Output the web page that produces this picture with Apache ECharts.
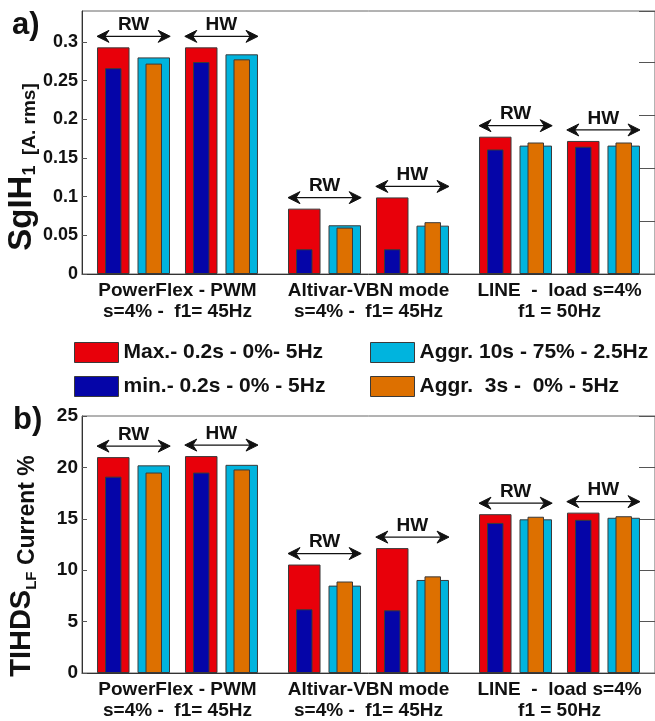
<!DOCTYPE html>
<html>
<head>
<meta charset="utf-8">
<script src="https://cdn.jsdelivr.net/npm/echarts@6/dist/echarts.min.js"></script>
<style>html,body{margin:0;padding:0;background:#fff;}#c{width:655px;height:721px;}</style>
</head>
<body>
<div id="c"></div>
<script>
// ---- data ----
const groups = ['PowerFlex - PWM\ns=4% -  f1= 45Hz', 'Altivar-VBN mode\ns=4% -  f1= 45Hz', 'LINE  -  load s=4%\nf1 = 50Hz'];
const legendNames = ['Max.- 0.2s - 0%- 5Hz', 'min.- 0.2s - 0% - 5Hz', 'Aggr. 10s - 75% - 2.5Hz', 'Aggr.  3s -  0% - 5Hz'];
const subLabels = ['RW', 'HW'];

// panel a) SgIH1 [A. rms]
const aMaxRW   = [0.293, 0.0845, 0.1775];
const aMaxHW   = [0.293, 0.099, 0.172];
const aMinRW   = [0.266, 0.032, 0.161];
const aMinHW   = [0.274, 0.032, 0.1645];
const aAgg10RW = [0.280, 0.063, 0.166];
const aAgg10HW = [0.284, 0.0625, 0.166];
const aAgg3RW  = [0.272, 0.060, 0.170];
const aAgg3HW  = [0.2775, 0.067, 0.170];
const aTicks = { min: 0, max: 0.34, interval: 0.05 };

// panel b) TIHDS_LF Current %
const bMaxRW   = [21.0, 10.55, 15.45];
const bMaxHW   = [21.1, 12.15, 15.6];
const bMinRW   = [19.1, 6.2, 14.6];
const bMinHW   = [19.5, 6.1, 14.9];
const bAgg10RW = [20.2, 8.5, 14.95];
const bAgg10HW = [20.25, 9.05, 15.1];
const bAgg3RW  = [19.5, 8.9, 15.2];
const bAgg3HW  = [19.8, 9.4, 15.25];
const bTicks = { min: 0, max: 25, interval: 5 };

// ---- style ----
const FONT = '"Liberation Sans", Arial, sans-serif';
const C_MAX = '#E8000A', C_MIN = '#0505A8', C_A10 = '#00B4DE', C_A3 = '#DD7000';
const EDGE = '#3a3a3a';
const WIDE = 32.5, NARROW = 16.5;

function barS(name, color, data, xi, yi, w, gap) {
  return {
    type: 'bar', name: name, data: data, xAxisIndex: xi, yAxisIndex: yi,
    barWidth: w, barGap: gap,
    itemStyle: { color: color, borderColor: EDGE, borderWidth: 1 },
    emphasis: { disabled: true }, silent: true
  };
}
function spacer(xi, yi, w, gap) {
  return { type: 'bar', name: '_sp' + xi, data: ['-', '-', '-'], xAxisIndex: xi, yAxisIndex: yi, barWidth: w, barGap: gap, silent: true };
}
function arrowSeries(xi, yi, maxRW, a10RW, maxHW, a10HW) {
  const d = [];
  for (let g = 0; g < groups.length; g++) {
    d.push([g, 0, Math.max(maxRW[g], a10RW[g])]);
    d.push([g, 1, Math.max(maxHW[g], a10HW[g])]);
  }
  return {
    type: 'custom', xAxisIndex: xi, yAxisIndex: yi, data: d, silent: true, z: 10,
    renderItem: function (params, api) {
      const g = api.value(0), s = api.value(1), v = api.value(2);
      const p = api.coord([g, v]);
      const cx = p[0] + (s === 0 ? -43.9 : 43.9);
      const half = 36.6;
      const y = p[1] - 11;
      const L = cx - half, R = cx + half;
      return {
        type: 'group', children: [
          { type: 'line', shape: { x1: L + 4, y1: y, x2: R - 4, y2: y }, style: { stroke: '#111', lineWidth: 1.3 } },
          { type: 'polygon', shape: { points: [[L, y], [L + 12, y - 6], [L + 8, y], [L + 12, y + 6]] }, style: { fill: '#111', stroke: '#111', lineWidth: 1 } },
          { type: 'polygon', shape: { points: [[R, y], [R - 12, y - 6], [R - 8, y], [R - 12, y + 6]] }, style: { fill: '#111', stroke: '#111', lineWidth: 1 } },
          { type: 'text', x: cx, y: y - 2, style: { text: subLabels[s], font: 'bold 19px ' + FONT, fill: '#111', textAlign: 'center', textVerticalAlign: 'bottom' } }
        ]
      };
    }
  };
}
function panelSeries(xMain, xNar, yi, d) {
  const gapW = '24.6%', gapN = '145.45%';
  return [
    barS(legendNames[0], C_MAX, d.maxRW, xMain, yi, WIDE, gapW),
    barS(legendNames[2], C_A10, d.a10RW, xMain, yi, WIDE, gapW),
    spacer(xMain, yi, 5.6, gapW),
    barS(legendNames[0], C_MAX, d.maxHW, xMain, yi, WIDE, gapW),
    barS(legendNames[2], C_A10, d.a10HW, xMain, yi, WIDE, gapW),
    barS(legendNames[1], C_MIN, d.minRW, xNar, yi, NARROW, gapN),
    barS(legendNames[3], C_A3, d.a3RW, xNar, yi, NARROW, gapN),
    spacer(xNar, yi, 2.85, gapN),
    barS(legendNames[1], C_MIN, d.minHW, xNar, yi, NARROW, gapN),
    barS(legendNames[3], C_A3, d.a3HW, xNar, yi, NARROW, gapN),
    arrowSeries(xMain, yi, d.maxRW, d.a10RW, d.maxHW, d.a10HW)
  ];
}
function xMainAxis(gi) {
  return {
    type: 'category', gridIndex: gi, data: groups, position: 'bottom',
    axisLine: { show: true, lineStyle: { color: '#333', width: 1 } },
    axisTick: { show: false },
    axisLabel: { interval: 0, margin: 6, color: '#111', fontFamily: FONT, fontWeight: 'bold', fontSize: 19, lineHeight: 21 }
  };
}
function xHiddenAxis(gi) {
  return { type: 'category', gridIndex: gi, data: groups, show: false };
}
function yLeft(gi, t, fs, showMax) {
  return {
    type: 'value', gridIndex: gi, min: t.min, max: t.max, interval: t.interval, position: 'left',
    splitLine: { show: false },
    axisLine: { show: true, lineStyle: { color: '#333' } },
    axisTick: { show: true, inside: true, length: 5, lineStyle: { color: '#555' } },
    axisLabel: { showMaxLabel: showMax, margin: 4, color: '#111', fontFamily: FONT, fontWeight: 'bold', fontSize: fs }
  };
}
function yRight(gi, max, interval) {
  return {
    type: 'value', gridIndex: gi, min: 0, max: max, interval: interval, position: 'right',
    splitLine: { show: false }, axisLine: { show: false },
    axisTick: { show: true, inside: true, length: 16, lineStyle: { color: '#555' } },
    axisLabel: { show: false }
  };
}

const chart = echarts.init(document.getElementById('c'), null, { renderer: 'canvas' });
chart.setOption({
  animation: false,
  backgroundColor: '#fff',
  textStyle: { fontFamily: FONT },
  grid: [
    { left: 82, right: -9, top: 11, bottom: 447, show: true, borderColor: '#666', borderWidth: 1 },
    { left: 82, right: -9, top: 416, bottom: 44, show: true, borderColor: '#666', borderWidth: 1 }
  ],
  xAxis: [xMainAxis(0), xHiddenAxis(0), xMainAxis(1), xHiddenAxis(1)],
  yAxis: [yLeft(0, aTicks, 18, false), yRight(0, 4.96, 1), yLeft(1, bTicks, 19, true), yRight(1, 25, 5)],
  legend: [
    {
      data: [legendNames[0], legendNames[1]], orient: 'vertical', left: 69, top: 337,
      itemWidth: 44, itemHeight: 20, itemGap: 13, icon: 'rect', selectedMode: false,
      itemStyle: { borderColor: EDGE, borderWidth: 1 },
      textStyle: { color: '#111', fontFamily: FONT, fontWeight: 'bold', fontSize: 21 }
    },
    {
      data: [legendNames[2], legendNames[3]], orient: 'vertical', left: 365, top: 337,
      itemWidth: 44, itemHeight: 20, itemGap: 13, icon: 'rect', selectedMode: false,
      itemStyle: { borderColor: EDGE, borderWidth: 1 },
      textStyle: { color: '#111', fontFamily: FONT, fontWeight: 'bold', fontSize: 21 }
    }
  ],
  graphic: [
    { type: 'text', left: 12, top: 10, style: { text: 'a)', font: 'bold 31px ' + FONT, fill: '#111' } },
    { type: 'text', left: 13, top: 405, style: { text: 'b)', font: 'bold 31px ' + FONT, fill: '#111' } },
    {
      type: 'text', x: 22, y: 167, rotation: Math.PI / 2,
      style: {
        text: '{b|SgIH}{s|1}{u|  [A. rms]}', textAlign: 'center', textVerticalAlign: 'middle', fill: '#111',
        rich: {
          b: { fontFamily: FONT, fontWeight: 'bold', fontSize: 33, lineHeight: 34, fill: '#111' },
          s: { fontFamily: FONT, fontWeight: 'bold', fontSize: 18, lineHeight: 17, verticalAlign: 'bottom', fill: '#111' },
          u: { fontFamily: FONT, fontWeight: 'bold', fontSize: 19, lineHeight: 26, verticalAlign: 'bottom', fill: '#111' }
        }
      }
    },
    {
      type: 'text', x: 22, y: 566, rotation: Math.PI / 2,
      style: {
        text: '{b|TIHDS}{s|LF}{u| Current %}', textAlign: 'center', textVerticalAlign: 'middle', fill: '#111',
        rich: {
          b: { fontFamily: FONT, fontWeight: 'bold', fontSize: 29, lineHeight: 34, fill: '#111' },
          s: { fontFamily: FONT, fontWeight: 'bold', fontSize: 15, lineHeight: 15, verticalAlign: 'bottom', fill: '#111' },
          u: { fontFamily: FONT, fontWeight: 'bold', fontSize: 23, lineHeight: 30, verticalAlign: 'bottom', fill: '#111' }
        }
      }
    }
  ],
  series: [].concat(
    panelSeries(0, 1, 0, { maxRW: aMaxRW, maxHW: aMaxHW, minRW: aMinRW, minHW: aMinHW, a10RW: aAgg10RW, a10HW: aAgg10HW, a3RW: aAgg3RW, a3HW: aAgg3HW }),
    panelSeries(2, 3, 2, { maxRW: bMaxRW, maxHW: bMaxHW, minRW: bMinRW, minHW: bMinHW, a10RW: bAgg10RW, a10HW: bAgg10HW, a3RW: bAgg3RW, a3HW: bAgg3HW })
  )
});
</script>
</body>
</html>
